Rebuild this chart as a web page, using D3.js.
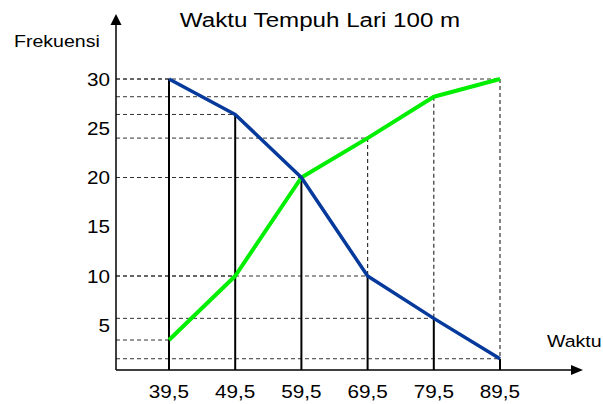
<!DOCTYPE html>
<html>
<head>
<meta charset="utf-8">
<script src="https://cdn.jsdelivr.net/npm/d3@7"></script>
<style>
  body { margin: 0; background: #fff; }
  text { font-family: "Liberation Sans", Arial, sans-serif; fill: #000; }
</style>
</head>
<body>
<div id="chart"></div>
<script>
// class boundaries (Waktu) and the two ogives
const boundaries = [39.5, 49.5, 59.5, 69.5, 79.5, 89.5];
const boundaryLabels = ["39,5", "49,5", "59,5", "69,5", "79,5", "89,5"];
const descending = [30, 26.4, 20, 10, 5.7, 1.6];   // blue
const ascending = [3.5, 10, 20, 24, 28.2, 30];     // green
const yTicks = [5, 10, 15, 20, 25, 30];

const W = 603, H = 404;
const stretch = 1.15; // text in the picture is a little wide

const svg = d3.select("#chart")
  .append("svg")
    .attr("width", W)
    .attr("height", H);

const x = d3.scaleLinear()
  .domain([39.5, 89.5])
  .range([169, 500]);

const y = d3.scaleLinear()
  .domain([10, 30])
  .range([276, 79]);

const axisX = 116, axisY = 370;

function wideText(px, py, str, size, anchor) {
  svg.append("text")
    .attr("transform", `translate(${px},${py}) scale(${stretch},1)`)
    .attr("text-anchor", anchor)
    .style("font-size", size + "px")
    .text(str);
}

const pts = boundaries.map((b, i) => ({ b, lab: boundaryLabels[i], d: descending[i], a: ascending[i] }));

// horizontal dashed guides to every point
const guides = [];
pts.forEach(p => { guides.push({ b: p.b, v: p.d }); guides.push({ b: p.b, v: p.a }); });
svg.selectAll(".hguide")
  .data(guides)
  .enter()
  .append("line")
    .attr("class", "hguide")
    .attr("x1", axisX)
    .attr("x2", d => x(d.b))
    .attr("y1", d => y(d.v))
    .attr("y2", d => y(d.v))
    .attr("stroke", "#333")
    .attr("stroke-width", 1)
    .attr("stroke-dasharray", "4,3");

// dashed verticals from green point down to blue point
svg.selectAll(".vdash")
  .data(pts.filter(p => p.a > p.d))
  .enter()
  .append("line")
    .attr("x1", d => x(d.b))
    .attr("x2", d => x(d.b))
    .attr("y1", d => y(d.a))
    .attr("y2", d => y(d.d))
    .attr("stroke", "#333")
    .attr("stroke-width", 1.2)
    .attr("stroke-dasharray", "4,3");

// solid verticals from blue point to the axis
svg.selectAll(".vsolid")
  .data(pts)
  .enter()
  .append("line")
    .attr("x1", d => x(d.b))
    .attr("x2", d => x(d.b))
    .attr("y1", d => y(d.d))
    .attr("y2", axisY)
    .attr("stroke", "#000")
    .attr("stroke-width", 2);

// axes with arrows
svg.append("line")
  .attr("x1", axisX).attr("x2", axisX)
  .attr("y1", axisY).attr("y2", 22)
  .attr("stroke", "#000").attr("stroke-width", 1.5);
svg.append("path")
  .attr("d", `M${axisX},14 L${axisX - 5.5},25 L${axisX + 5.5},25 Z`)
  .attr("fill", "#000");

svg.append("line")
  .attr("x1", axisX).attr("x2", 574)
  .attr("y1", axisY).attr("y2", axisY)
  .attr("stroke", "#000").attr("stroke-width", 1.5);
svg.append("path")
  .attr("d", `M583,${axisY} L571,${axisY - 5} L571,${axisY + 5} Z`)
  .attr("fill", "#000");

// ogive lines
const line = d3.line().x(d => x(d.b));

svg.append("path")
  .datum(pts)
  .attr("fill", "none")
  .attr("stroke", "#00ee00")
  .attr("stroke-width", 4)
  .attr("stroke-linejoin", "round")
  .attr("d", line.y(d => y(d.a)));

svg.append("path")
  .datum(pts)
  .attr("fill", "none")
  .attr("stroke", "#053a9c")
  .attr("stroke-width", 3.5)
  .attr("stroke-linejoin", "round")
  .attr("d", line.y(d => y(d.d)));

// tick labels
yTicks.forEach(t => wideText(axisX - 6, y(t) + 6.5, String(t), 18, "end"));
pts.forEach(p => wideText(x(p.b), 398, p.lab, 18, "middle"));

// titles
wideText(320, 27, "Waktu Tempuh Lari 100 m", 21, "middle");
wideText(14, 47, "Frekuensi", 17, "start");
wideText(547, 347, "Waktu", 17, "start");
</script>
</body>
</html>
